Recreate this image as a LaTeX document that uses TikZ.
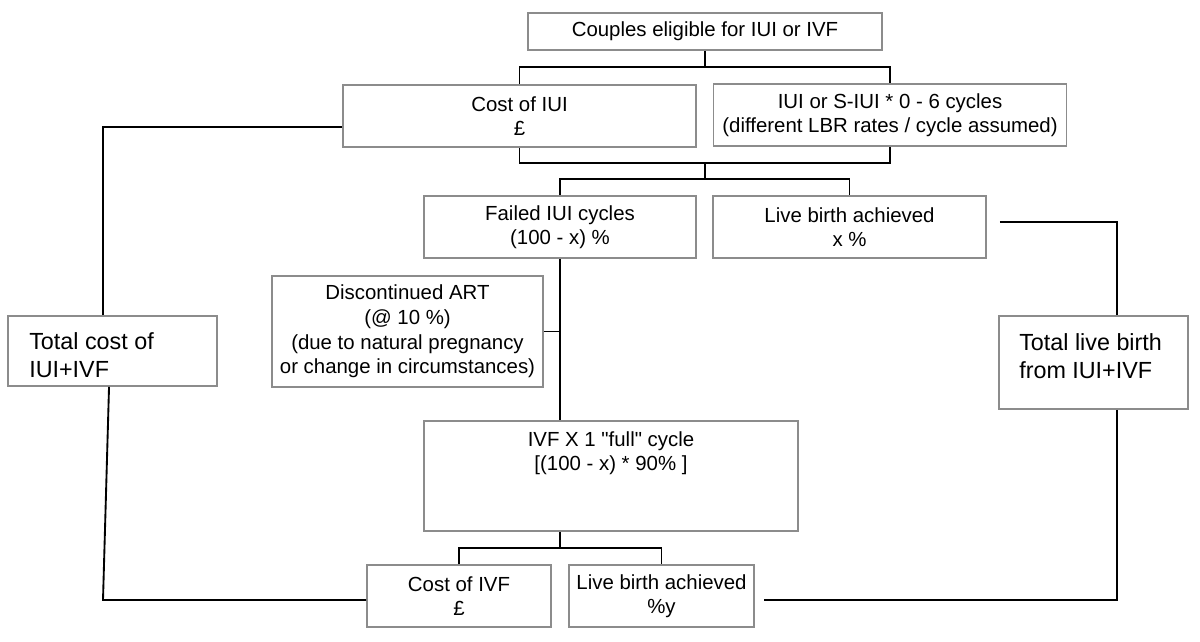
\documentclass[tikz,border=0pt]{standalone}
\usepackage{fontspec}
\setmainfont{Liberation Sans}
\newfontfamily\diagfont{Liberation Sans}
\definecolor{boxgray}{RGB}{140,140,140}
\begin{document}
\begin{tikzpicture}[x=0.75pt,y=-0.75pt,
  wh/.style 2 args={minimum width=#1*0.75pt, minimum height=#2*0.75pt},
  box/.style={draw=boxgray, line width=1.2pt, fill=white, inner sep=0pt, align=center,
    font=\diagfont\fontsize{15.3}{18.4}\selectfont},
  txt/.style={inner sep=0pt, align=center, font=\diagfont\fontsize{15.3}{18.4}\selectfont},
  big/.style={inner sep=0pt, align=left, font=\diagfont\fontsize{17.5}{21}\selectfont},
  conn/.style={draw=black, line width=1.4pt}]
\useasboundingbox (0,0) rectangle (1200,642);

% boxes
\node[box, wh={354}{37}] (top) at (705,31.5) {Couples eligible for IUI or IVF};
\node[box, wh={353}{62}] (costiui) at (519.5,116) {Cost of IUI\\£};
\node[box, wh={353}{62}] (iui) at (890,115) {IUI or S-IUI * 0 - 6 cycles\\(different LBR rates / cycle assumed)};
\node[box, wh={272}{62}] (failed) at (560,227) {Failed IUI cycles\\(100 - x) \%};
\node[box, wh={273}{62}] (live1) at (849.5,227) {Live birth achieved\\x \%};
\node[box, wh={271}{111}] (disc) at (407.5,331.5) {Discontinued ART\\(@ 10 \%)\\(due to natural pregnancy\\or change in circumstances)};
\node[box, wh={374}{110}] (ivf) at (611,476) {};
\node[txt, anchor=north] (ivftext) at (611,431) {IVF X 1 "full" cycle\\{[}(100 - x) * 90\% ]};
\node[box, wh={184}{62}] (costivf) at (459,596) {Cost of IVF\\£};
\node[box, wh={185}{62}] (live2) at (661.5,596) {Live birth achieved\\\%y};
\node[box, wh={209}{70}] (totcost) at (112.5,351) {};
\node[big, anchor=north west] (totcosttext) at (29,332) {Total cost of\\IUI+IVF};
\node[box, wh={189}{93}] (totlive) at (1093.5,362.5) {};
\node[big, anchor=north west] (totlivetext) at (1019,333) {Total live birth\\from IUI+IVF};

% junction points
\coordinate (j1) at (705,67);
\coordinate (j2) at (705,163);
\coordinate (j3) at (705,179);
\coordinate (j4) at (560,548);
\coordinate (l1) at (103,127);
\coordinate (l3) at (103,600);
\coordinate (r1) at (1117,222);
\coordinate (r2) at (1117,600);

% connectors
\draw[conn] (top.south) -- (j1);
\draw[conn] (costiui.north) |- (j1) -| (iui.north);
\draw[conn] (costiui.south) |- (j2) -| (iui.south);
\draw[conn] (j2) -- (j3);
\draw[conn] (failed.north) |- (j3) -| (live1.north);
\draw[conn] (failed.south) -- (failed.south |- ivf.north);
\draw[conn] (disc.east) -- (disc.east -| failed.south);
\draw[conn] (failed.south |- ivf.south) -- (j4);
\draw[conn] (costivf.north) |- (j4) -| (live2.north);

\draw[conn] ([yshift=-8.25pt]costiui.west) -- (l1) -- (l1 |- totcost.north);
\draw[conn] ([xshift=-2.6pt]totcost.south) -- (l3) -- ([yshift=-3pt]costivf.west);
\draw[conn] ([xshift=9.75pt,yshift=3.75pt]live1.east) -- (r1) -- (r1 |- totlive.north);
\draw[conn] (r1 |- totlive.south) -- (r2) -- ([xshift=6.75pt,yshift=-3pt]live2.east);
\end{tikzpicture}
\end{document}
